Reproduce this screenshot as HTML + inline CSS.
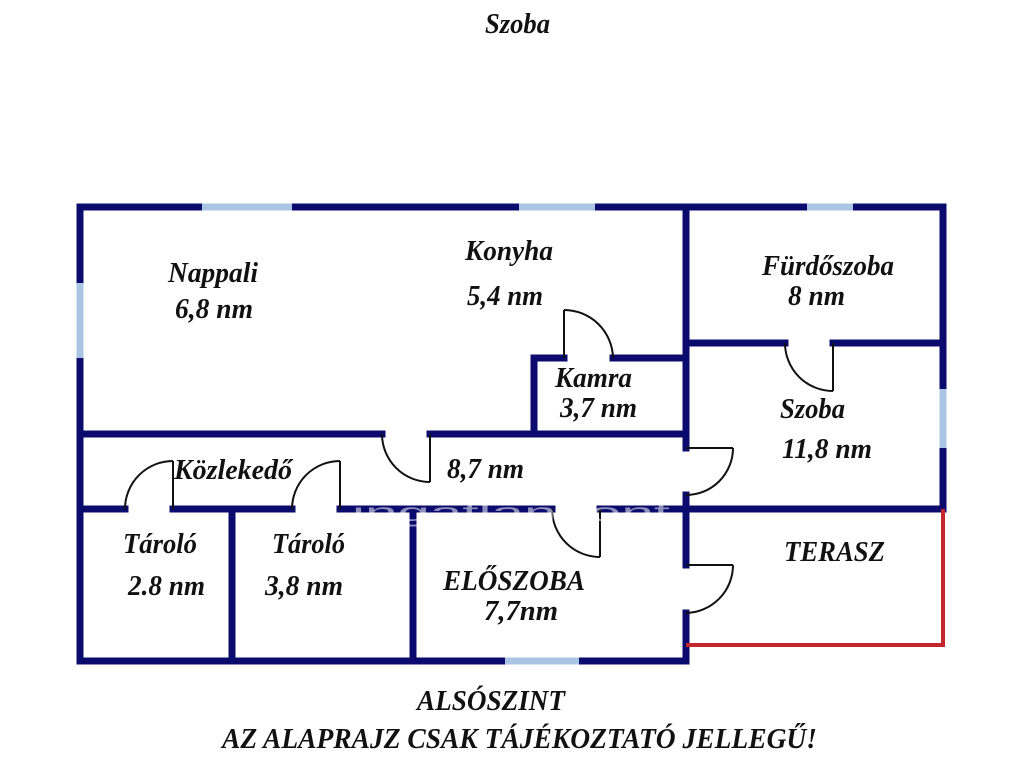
<!DOCTYPE html>
<html>
<head>
<meta charset="utf-8">
<style>
  html,body{margin:0;padding:0;background:#fff;}
  svg{display:block;}
  .t{font-family:"Liberation Serif",serif;font-weight:bold;font-style:italic;font-size:28px;fill:#111;}
</style>
</head>
<body>
<svg width="1024" height="768" viewBox="0 0 1024 768" xmlns="http://www.w3.org/2000/svg">
  <rect x="0" y="0" width="1024" height="768" fill="#ffffff"/>

  <!-- walls -->
  <g stroke="#0b0b6e" stroke-width="7" stroke-linecap="square" fill="none">
    <line x1="80" y1="207" x2="943" y2="207"/>
    <line x1="80" y1="207" x2="80" y2="661"/>
    <line x1="80" y1="661" x2="686" y2="661"/>
    <line x1="943" y1="207" x2="943" y2="509"/>
    <line x1="686" y1="207" x2="686" y2="448"/>
    <line x1="686" y1="495" x2="686" y2="565"/>
    <line x1="686" y1="613" x2="686" y2="661"/>
    <line x1="686" y1="343" x2="785" y2="343"/>
    <line x1="833" y1="343" x2="943" y2="343"/>
    <line x1="534" y1="358" x2="564" y2="358"/>
    <line x1="613" y1="358" x2="686" y2="358"/>
    <line x1="534" y1="358" x2="534" y2="434"/>
    <line x1="80" y1="434" x2="382" y2="434"/>
    <line x1="430" y1="434" x2="686" y2="434"/>
    <line x1="80" y1="509" x2="125" y2="509"/>
    <line x1="173" y1="509" x2="292" y2="509"/>
    <line x1="340" y1="509" x2="552" y2="509"/>
    <line x1="600" y1="509" x2="943" y2="509"/>
    <line x1="232" y1="509" x2="232" y2="661"/>
    <line x1="413" y1="509" x2="413" y2="661"/>
  </g>

  <!-- windows -->
  <g stroke="#a9c5e3" stroke-width="7" fill="none">
    <line x1="202" y1="207" x2="292" y2="207"/>
    <line x1="519" y1="207" x2="595" y2="207"/>
    <line x1="807" y1="207" x2="853" y2="207"/>
    <line x1="80" y1="283" x2="80" y2="358"/>
    <line x1="943" y1="389" x2="943" y2="448"/>
    <line x1="505" y1="661" x2="579" y2="661"/>
  </g>

  <!-- terrace -->
  <polyline points="686,645 943,645 943,509" fill="none" stroke="#c4262c" stroke-width="4"/>

  <!-- doors -->
  <g stroke="#111" stroke-width="2" fill="none">
    <line x1="430" y1="434" x2="430" y2="482"/>
    <path d="M382,434 A48,48 0 0 0 430,482"/>
    <line x1="564" y1="358" x2="564" y2="310"/>
    <path d="M564,310 A49,49 0 0 1 613,358"/>
    <line x1="833" y1="343" x2="833" y2="391"/>
    <path d="M785,343 A48,48 0 0 0 833,391"/>
    <line x1="686" y1="448" x2="733" y2="448"/>
    <path d="M733,448 A47,47 0 0 1 686,495"/>
    <line x1="173" y1="509" x2="173" y2="461"/>
    <path d="M125,509 A48,48 0 0 1 173,461"/>
    <line x1="340" y1="509" x2="340" y2="461"/>
    <path d="M292,509 A48,48 0 0 1 340,461"/>
    <line x1="600" y1="509" x2="600" y2="557"/>
    <path d="M552,509 A48,48 0 0 0 600,557"/>
    <line x1="686" y1="565" x2="733" y2="565"/>
    <path d="M733,565 A48,48 0 0 1 686,613"/>
  </g>

  <!-- watermark (visible only over wall) -->
  <text x="352" y="521" font-family="Liberation Sans, sans-serif" font-size="26" fill="#ffffff" fill-opacity="0.55" textLength="318" lengthAdjust="spacingAndGlyphs">ingatlanpont</text>

  <!-- labels -->
  <text class="t" x="485" y="33" textLength="65" lengthAdjust="spacingAndGlyphs">Szoba</text>
  <text class="t" x="168" y="282" textLength="90" lengthAdjust="spacingAndGlyphs">Nappali</text>
  <text class="t" x="175" y="318" textLength="78" lengthAdjust="spacingAndGlyphs">6,8 nm</text>
  <text class="t" x="465" y="260" textLength="88" lengthAdjust="spacingAndGlyphs">Konyha</text>
  <text class="t" x="467" y="305" textLength="76" lengthAdjust="spacingAndGlyphs">5,4 nm</text>
  <text class="t" x="555" y="387" textLength="77" lengthAdjust="spacingAndGlyphs">Kamra</text>
  <text class="t" x="560" y="417" textLength="77" lengthAdjust="spacingAndGlyphs">3,7 nm</text>
  <text class="t" x="762" y="275" textLength="132" lengthAdjust="spacingAndGlyphs">Fürdőszoba</text>
  <text class="t" x="788" y="305" textLength="57" lengthAdjust="spacingAndGlyphs">8 nm</text>
  <text class="t" x="780" y="418" textLength="65" lengthAdjust="spacingAndGlyphs">Szoba</text>
  <text class="t" x="782" y="458" textLength="90" lengthAdjust="spacingAndGlyphs">11,8 nm</text>
  <text class="t" x="174" y="479" textLength="118" lengthAdjust="spacingAndGlyphs">Közlekedő</text>
  <text class="t" x="447" y="478" textLength="77" lengthAdjust="spacingAndGlyphs">8,7 nm</text>
  <text class="t" x="123" y="553" textLength="74" lengthAdjust="spacingAndGlyphs">Tároló</text>
  <text class="t" x="128" y="595" textLength="77" lengthAdjust="spacingAndGlyphs">2.8 nm</text>
  <text class="t" x="272" y="553" textLength="73" lengthAdjust="spacingAndGlyphs">Tároló</text>
  <text class="t" x="265" y="595" textLength="78" lengthAdjust="spacingAndGlyphs">3,8 nm</text>
  <text class="t" x="443" y="590" textLength="142" lengthAdjust="spacingAndGlyphs">ELŐSZOBA</text>
  <text class="t" x="484" y="620" textLength="74" lengthAdjust="spacingAndGlyphs">7,7nm</text>
  <text class="t" x="784" y="561" textLength="101" lengthAdjust="spacingAndGlyphs">TERASZ</text>
  <text class="t" x="417" y="710" textLength="148" lengthAdjust="spacingAndGlyphs">ALSÓSZINT</text>
  <text class="t" x="222" y="748" textLength="595" lengthAdjust="spacingAndGlyphs">AZ ALAPRAJZ CSAK TÁJÉKOZTATÓ JELLEGŰ!</text>
</svg>
</body>
</html>
